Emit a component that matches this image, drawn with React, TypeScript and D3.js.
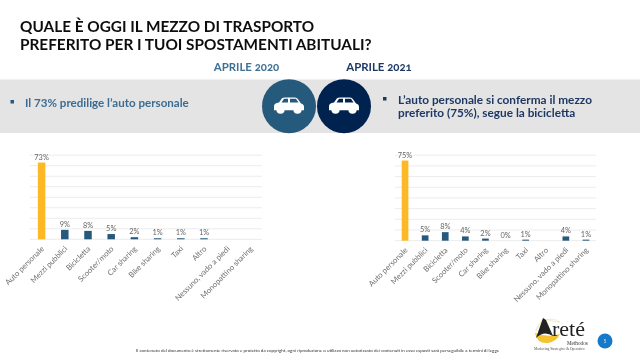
import React from "react";
import * as d3 from "d3";

const categories2020 = ["Auto personale","Mezzi pubblici","Bicicletta","Scooter/moto","Car sharing","Bike sharing","Taxi","Altro","Nessuno, vado a piedi","Monopattino sharing"];
const values2020: (number|null)[] = [73,9,8,5,2,1,1,1,null,null];
const values2021: (number|null)[] = [75,5,8,4,2,0,1,null,4,1];
const gridTicks = [0,10,20,30,40,50,60,70,80];
const titleLines = ["QUALE È OGGI IL MEZZO DI TRASPORTO","PREFERITO PER I TUOI SPOSTAMENTI ABITUALI?"];
const footer = "Il contenuto del documento è strettamente riservato e protetto da copyright, ogni riproduzione o utilizzo non autorizzato dei contenuti in esso esposti sarà perseguibile a termini di legge";

const FONT = "Lato, 'Open Sans', sans-serif";

function Chart({values,x0,x1,yBase,yTop,barW}:{values:(number|null)[];x0:number;x1:number;yBase:number;yTop:number;barW:number}){
  const x = d3.scaleBand<string>().domain(categories2020).range([x0,x1]);
  const y = d3.scaleLinear().domain([0,80]).range([yBase,yTop]);
  return <g>
    {gridTicks.map(t=><line key={t} x1={x0} x2={x1} y1={y(t)} y2={y(t)} stroke="#ececec" strokeWidth={1}/>)}
    {categories2020.map((c,i)=>{
      const v=values[i];
      const cx=x(c)!+x.bandwidth()/2;
      return <g key={c}>
        {v!==null && v>0 && <rect x={cx-barW/2} y={y(v)} width={barW} height={Math.max(yBase-y(v),1)} fill={i===0?"#fdb827":"#285a7d"}/>}
        {v!==null && <text x={cx} y={y(v)-3} textAnchor="middle" fontSize={7.4} fill="#666" fontFamily={FONT}>{v}%</text>}
        <text transform={`translate(${cx+3},${yBase+10}) rotate(-45)`} textAnchor="end" fontSize={7.7} fill="#6f6f6f" fontFamily={FONT}>{c}</text>
      </g>;
    })}
  </g>;
}

function Car({cx,cy}:{cx:number;cy:number}){
  return <g transform={`translate(${cx},${cy}) scale(1,0.85)`} fill="#fff">
    <path d="M-15,5 L-15,0 Q-15,-3 -10,-4 L-7,-9 Q-6,-10 -4,-10 L6,-10 Q8,-10 9,-8 L12,-3 Q15,-2 15,1 L15,5 Z M-5,-8.5 L-7.5,-4 L-1,-4 L-1,-8.5 Z M1,-8.5 L1,-4 L9.5,-4 L7,-8.5 Z" fillRule="evenodd"/>
    <circle cx={-8.5} cy={5} r={4}/>
    <circle cx={8.5} cy={5} r={4}/>
  </g>;
}

export default function App(){
  return <svg width={640} height={353} style={{position:"absolute",left:0,top:0,background:"#fff"}} fontFamily={FONT}>
    <defs><filter id="soft" x="-5%" y="-5%" width="110%" height="110%"><feGaussianBlur stdDeviation={0.45}/></filter></defs>
    <g filter="url(#soft)">
      {titleLines.map((t,i)=><text key={t} x={20} y={32+i*17.7} fontSize={15.35} fontWeight={700} fill="#111">{t}</text>)}
      <text x={246.5} y={71} textAnchor="middle" fontSize={11.4} fontWeight={700} fill="#3f6f94" style={{fontVariantNumeric:"oldstyle-nums"}}>APRILE 2020</text>
      <text x={379} y={71} textAnchor="middle" fontSize={11.4} fontWeight={700} fill="#1f3864" style={{fontVariantNumeric:"oldstyle-nums"}}>APRILE 2021</text>
      <rect x={0} y={79.5} width={640} height={53.5} fill="#e4e4e4"/>
      <circle cx={289} cy={106.2} r={27} fill="#285a7d"/>
      <circle cx={344} cy={106.2} r={27} fill="#052450"/>
      <Car cx={289} cy={106}/>
      <Car cx={344} cy={106}/>
      <rect x={10.5} y={100} width={3.5} height={3.5} fill="#285a7d"/>
      <text x={25} y={106.5} fontSize={11.6} fontWeight={700} fill="#3c6c92">Il 73% predilige l’auto personale</text>
      <rect x={383} y={97} width={3.5} height={3.5} fill="#1f3864"/>
      <text x={398} y={103.5} fontSize={11.8} fontWeight={700} fill="#1f3864">L’auto personale si conferma il mezzo</text>
      <text x={398} y={117} fontSize={11.8} fontWeight={700} fill="#1f3864">preferito (75%), segue la bicicletta</text>
      <Chart values={values2020} x0={30} x1={262} yBase={239.3} yTop={155.2} barW={7.5}/>
      <Chart values={values2021} x0={395} x1={596} yBase={240.7} yTop={155.2} barW={6.7}/>
      <text x={136} y={352} fontSize={4.5} fill="#333">{footer}</text>
      <g>
        <path d="M536,331 A15,13 0 0 1 560,322 L557,322 Q548,319 542,320 Z" fill="none" stroke="#e8dfb0" strokeWidth={0.6}/>
        <path d="M535,333 Q537,344 548,343 Q556,342 560,334 Q548,338 535,333Z" fill="#f5c232"/>
        <path d="M536,338 L543,318 L546,320 L553,336 Q544,330 536,338Z" fill="#222"/>
        <text x={552} y={335.5} fontSize={22} fontFamily="'Liberation Serif', serif" fill="#222">reté</text>
        <text x={567} y={345} fontSize={5.2} fontFamily="'Liberation Serif', serif" fill="#333">Methodos</text>
        <text x={534} y={349.7} fontSize={3.7} fontFamily="'Liberation Serif', serif" fill="#555">Marketing Strategico &amp; Operativo</text>
        <circle cx={605} cy={341} r={7.5} fill="#1479c9"/>
        <text x={605} y={343} textAnchor="middle" fontSize={5} fill="#cfe4f5">5</text>
      </g>
    </g>
  </svg>;
}
